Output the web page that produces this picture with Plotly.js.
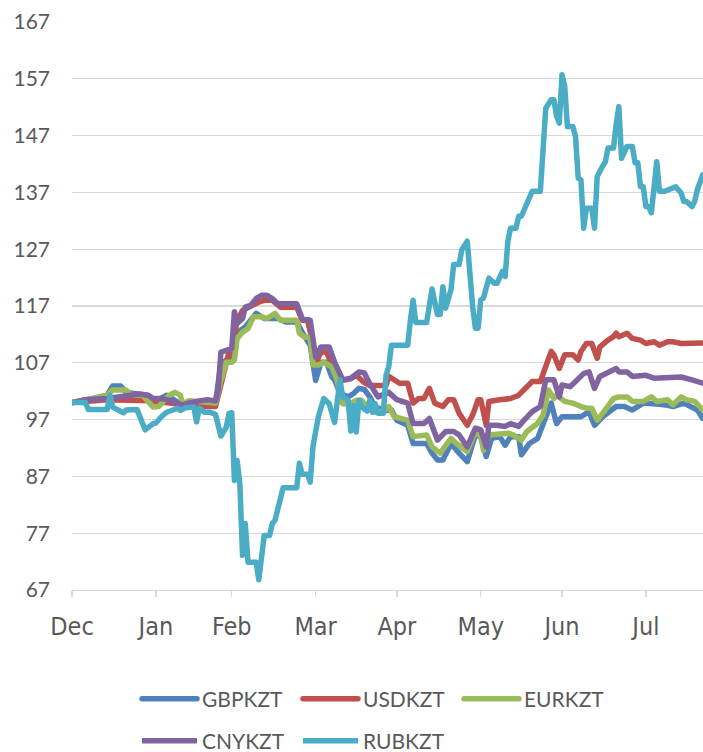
<!DOCTYPE html>
<html><head><meta charset="utf-8">
<script src="https://cdn.plot.ly/plotly-3.0.1.min.js"></script>
<style>html,body{margin:0;padding:0;background:#fff;}#chart{width:703px;height:752px;}
.scatterlayer .js-line, .legend .js-line{stroke-linejoin:round;stroke-linecap:round;}</style>
</head><body><div id="chart"></div>
<script>
// Day offsets are days after 31 Dec 2021 (index = 100 on that day)
const gbpDay = [0,5,13,15,18,20,24,28,31,35,39,41,47,53,55,59,60,62,64,66,68,71,74,76,79,83,85,88,90,91,92,94,96,97,98,99,102,104,106,108,110,112,116,118,120,124,126,131,133,135,137,140,143,146,149,151,153,155,158,160,162,165,166,169,172,174,177,179,181,185,188,191,193,196,199,201,204,207,211,214,217,220,222,226,229,231,233];
const gbpVal = [100,100.3,101.3,102.9,102.9,101.8,101.5,101.3,100.3,101.3,100.1,99.7,100,100,106.9,108,112,112.7,113.3,114.5,115.7,114.8,114.8,114.8,114.2,114.2,112.4,110.1,103.9,105.7,107.1,107.1,104.5,104,102.7,101.6,101,101.6,102.5,102.3,101,99.2,98.6,98.7,96.9,96,92.8,92.8,91.1,89.9,89.9,92.8,91.1,89.6,94.3,94,90.5,93.7,94,92.5,94,94,90.8,92.8,93.7,96.3,99.9,96.3,97.5,97.5,97.5,98.4,96,97.5,98.7,99.3,99.3,98.7,99.9,99.9,99.7,99.5,99.3,99.9,99.3,98.7,97.2];

const usdDay = [0,13,29,40,47,53,55,58,59,61,63,66,69,71,74,77,83,85,87,89,90,92,94,96,98,100,103,105,108,110,116,117,121,124,126,128,130,132,134,137,139,141,143,146,148,150,151,153,154,158,160,162,165,168,170,173,175,177,178,180,182,185,187,188,190,192,194,195,198,200,201,202,205,207,210,212,215,217,220,222,225,228,233];
const usdVal = [100,100.5,100.3,99.7,99.3,99.3,103.5,108.9,109.2,114.5,116.2,117,117.7,118,118,116.8,116.8,114.5,114.5,110.4,106.9,108.9,108.9,106.6,105.7,103.9,104.2,104.8,103.5,103,103,104.6,103.4,103.4,99.9,100.7,100.7,102.5,99.9,99.3,100.5,100.5,98.1,96,97.8,100.5,100.5,96,100.2,100.5,100.5,100.7,101.3,102.8,103.7,103.7,106.3,109,108.4,106,108.4,108.4,107.5,109,110.4,110.4,107.8,109.8,111,111.6,112.2,111.6,112.2,111.3,111,110.4,110.7,110.1,110.7,110.7,110.4,110.4,110.5];

const eurDay = [0,13,15,20,22,26,30,32,36,38,40,41,43,48,53,55,57,59,60,61,63,65,67,70,72,75,77,83,84,86,88,89,91,93,96,98,99,100,103,105,107,109,112,115,117,119,122,124,126,129,131,133,136,140,142,146,149,151,152,154,158,161,163,166,168,172,174,176,178,179,182,185,188,190,192,194,196,198,200,202,205,207,211,214,216,220,222,225,227,230,233];
const eurVal = [100,101.3,102.2,102.2,101.3,101.3,99.2,99.3,101.3,101.8,101.3,99.7,100.3,100.2,99.9,103.9,107.1,107.1,107.5,111.3,112.4,113,115.1,115.1,114.8,115.7,114.5,114.5,112.2,111.5,111.5,106.6,106.6,107.1,106.3,103.9,100.7,99.8,99.8,100.4,100.4,99.2,98.3,98.5,99.3,97.5,97,96.9,94,94.3,94.3,92.2,91.1,93.7,92.8,91.4,94.9,94,91.6,94.3,94.6,94.6,94.3,93.4,94.9,96.3,97.8,102.2,100.7,101.3,100.2,99.9,99.3,99,99,96.9,98.1,99.3,100.7,101,101,100.2,100.2,101,100.2,100.5,99.6,101,100.5,100.2,98.7];

const cnyDay = [0,5,13,18,25,28,30,33,37,41,43,47,50,53,54,55,58,59,60,61,63,64,66,68,70,72,74,76,83,85,88,90,92,95,97,99,100,103,104,106,108,110,113,117,120,124,126,130,132,135,138,141,143,146,149,151,153,154,157,160,162,165,167,170,173,175,178,180,181,184,186,189,191,193,195,198,201,202,205,207,210,212,215,220,225,229,233];
const cnyVal = [100,100.5,100.7,101,101.5,101.3,100.7,100.7,100.3,99.5,99.9,100.3,100.5,100.3,102.2,108.9,109.3,109.5,116,113.9,114.8,116.8,117.1,118.3,118.9,118.9,118.3,117.4,117.4,114.8,114.5,108,109.8,109.8,107.1,105,104,104.3,104.6,105.4,105.2,103.3,101,101.8,100.5,99.9,96.3,96.3,97.2,93.4,94.9,94.9,94.3,92.2,95.5,95.2,92.2,96,96,95.8,96.3,95.8,96.9,98.4,99.3,104,104,101,103.1,102.8,103.7,105.1,105.4,102.5,104.6,105.4,106,105.4,105.4,104.6,104.8,104.8,104.3,104.5,104.5,104,103.4];

const rubDay = [0,5,6,13,14,15,19,20,24,26,27,30,31,33,35,39,40,42,45,46,47,49,51,53,55,57,58,59,60,61,62,63,64,65,67,68,69,70,71,73,74,75,78,83,84,85,87,88,89,91,93,95,97,99,100,102,103,104,105,106,107,109,110,111,112,113,115,116,117,118,123,124,125,126,127,131,133,135,136,137,138,140,141,143,144,146,148,149,150,151,152,154,156,157,159,160,161,162,164,165,166,168,170,173,174,175,177,178,179,180,181,182,183,185,186,187,188,189,190,192,193,194,196,197,198,200,201,202,203,205,207,208,209,210,211,212,213,214,216,217,219,222,223,225,226,227,229,230,231,233];
const rubVal = [100,100,98.8,98.8,101.3,99.2,98.2,98.7,98.8,96.3,95.2,96.3,96.4,97.5,98.3,99,98.6,99.1,99.2,96.6,99,98.3,98.3,97.9,94.1,95.7,98.1,98.2,86.3,89.8,85.7,73.1,78.7,71.9,71.9,71.9,68.8,73.5,76.6,76.6,78.7,79.3,85,85,89.3,87.4,87.4,86,92.2,97.5,100.7,99.8,96.5,104,101,100.4,95,99.5,94.8,100.4,99.2,98.5,100.4,98.3,99.8,98.1,98.1,104.8,106.3,110.1,110.1,110.1,114.5,118,114.1,114.1,120,115.5,115.5,120.4,116.6,119.9,124.3,124.3,126.9,128.4,116.9,113.1,113.1,118.1,118.4,121.9,121,121,123.1,122.2,128.4,130.7,130.7,132.8,132.8,135.1,137.2,137.2,146.3,151.8,153.3,153.3,150.4,149.2,157.7,155.7,148.6,148.6,146.8,139.5,139.2,130.7,134.2,134.2,130.7,139.8,141.6,142.4,144.8,144.8,148.9,152.1,143,145.1,145.1,142.2,142.2,138,138,134.5,134.5,133.4,142.4,137.2,137.2,138,138,136.9,135.4,135.4,134.5,135.4,137.5,140.1];

const seriesNames = ['GBPKZT','USDKZT','EURKZT','CNYKZT','RUBKZT'];
const seriesColors = ['#4F81BD','#C0504D','#9BBB59','#8064A2','#4BACC6'];
const monthTickDates = ['2021-12-31','2022-01-31','2022-02-28','2022-03-31','2022-04-30','2022-05-31','2022-06-30','2022-07-31'];
const monthTickText = ['Dec','Jan','Feb','Mar','Apr','May','Jun','Jul'];
const yTicks = [67,77,87,97,107,117,127,137,147,157,167];

const base = Date.UTC(2021,11,31);
const toDate = d => new Date(base + d*86400000).toISOString().slice(0,10);

const days = [gbpDay, usdDay, eurDay, cnyDay, rubDay];
const vals = [gbpVal, usdVal, eurVal, cnyVal, rubVal];
const FONT = 'Lato, "Open Sans", sans-serif';
const XFONT = '"DejaVu Sans Condensed", Lato, sans-serif';

const traces = seriesNames.map((n,i) => ({
  type:'scatter', mode:'lines', name:n,
  x: days[i].map(toDate), y: vals[i],
  line:{color:seriesColors[i], width:5.5},
  legend: i < 3 ? 'legend' : 'legend2'
}));

const legendCommon = {orientation:'h', xanchor:'left', yanchor:'middle', x:0.103, entrywidth:91, entrywidthmode:'pixels',
  font:{family:FONT, size:21, color:'#595959'}, bgcolor:'rgba(0,0,0,0)', itemwidth:55, borderwidth:0};

const layout = {
  width:703, height:752,
  margin:{l:72, r:0, t:22, b:162, autoexpand:false},
  paper_bgcolor:'#fff', plot_bgcolor:'#fff',
  showlegend:true,
  xaxis:{type:'date', range:['2021-12-31','2022-08-21 02:00'], tickmode:'array', tickvals:monthTickDates, ticktext:monthTickText,
    showgrid:false, showline:true, linecolor:'#D9D9D9', linewidth:1.3, ticks:'outside', ticklen:6, tickcolor:'#D9D9D9', tickwidth:1.3,
    ticklabelstandoff:8,
    tickfont:{family:XFONT, size:25, color:'#595959'}, zeroline:false, fixedrange:true, automargin:false},
  yaxis:{range:[67,167], tickmode:'array', tickvals:yTicks, showgrid:true, gridcolor:'#D9D9D9', gridwidth:1.3,
    showline:false, zeroline:false, ticks:'', ticklabelstandoff:21,
    tickfont:{family:FONT, size:21, color:'#595959'}, fixedrange:true, automargin:false},
  legend: Object.assign({}, legendCommon, {y:-0.192}),
  legend2: Object.assign({}, legendCommon, {y:-0.266})
};

Plotly.newPlot('chart', traces, layout, {staticPlot:true, displayModeBar:false});
</script></body></html>
